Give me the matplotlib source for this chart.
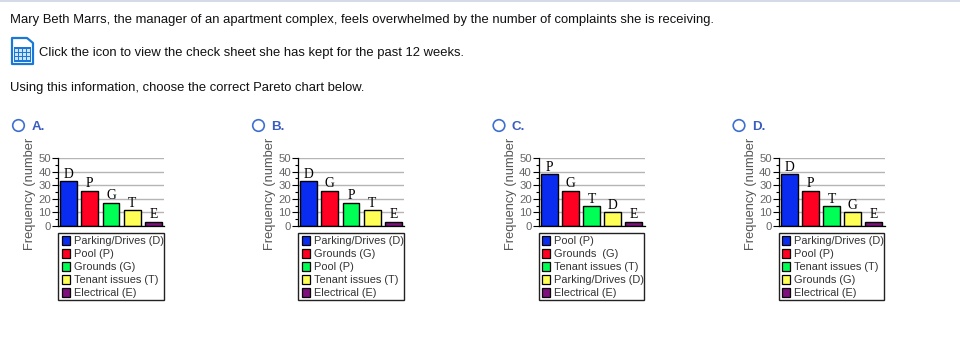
import matplotlib
matplotlib.use('Agg')
from matplotlib import pyplot as plt
from matplotlib.patches import Rectangle, Circle, Polygon

W, H = 960, 363

option_names = ['A.', 'B.', 'C.', 'D.']
legend_a = ['Parking/Drives (D)', 'Pool (P)', 'Grounds (G)', 'Tenant issues (T)', 'Electrical (E)']
legend_b = ['Parking/Drives (D)', 'Grounds (G)', 'Pool (P)', 'Tenant issues (T)', 'Electrical (E)']
legend_c = ['Pool (P)', 'Grounds  (G)', 'Tenant issues (T)', 'Parking/Drives (D)', 'Electrical (E)']
legend_d = ['Parking/Drives (D)', 'Pool (P)', 'Tenant issues (T)', 'Grounds (G)', 'Electrical (E)']
letters_a = ['D', 'P', 'G', 'T', 'E']
letters_b = ['D', 'G', 'P', 'T', 'E']
letters_c = ['P', 'G', 'T', 'D', 'E']
letters_d = ['D', 'P', 'T', 'G', 'E']
values_a = [33, 26, 17, 11.5, 3]
values_b = [33, 26, 17, 11.5, 3]
values_c = [38, 26, 14.5, 10, 3]
values_d = [38, 26, 14.5, 10, 3]
colors = ['#0a2cf0', '#ff0022', '#00ff55', '#ffff55', '#7f0f7f']

offsets = [0, 240, 480.5, 720.5]
legends = [legend_a, legend_b, legend_c, legend_d]
letters = [letters_a, letters_b, letters_c, letters_d]
values = [values_a, values_b, values_c, values_d]

plt.rcParams['font.family'] = ['Liberation Sans', 'DejaVu Sans']

fig = plt.figure(figsize=(W / 100, H / 100), dpi=100)

# page layer in pixel coordinates
bg = fig.add_axes([0, 0, 1, 1])
bg.set_xlim(0, W)
bg.set_ylim(H, 0)
bg.axis('off')

bg.add_patch(Rectangle((0, 0), W, 1.5, fc='#d5dbe6', ec='none'))
txt = 9.4
bg.text(10, 20.5, 'Mary Beth Marrs, the manager of an apartment complex, feels overwhelmed by the number of complaints she is receiving.',
        fontsize=txt, color='#111111', va='center')
bg.text(39, 53, 'Click the icon to view the check sheet she has kept for the past 12 weeks.',
        fontsize=txt, color='#111111', va='center')
bg.text(10, 88, 'Using this information, choose the correct Pareto chart below.',
        fontsize=txt, color='#111111', va='center')

# spreadsheet icon, document with cut corner
bg.add_patch(Polygon([(12, 38), (27, 38), (33, 43), (33, 64), (12, 64)], closed=True,
                     fc='white', ec='#1a78d6', lw=1.6, joinstyle='round'))
bg.add_patch(Rectangle((14, 47), 17, 15, fc='#1a78d6', ec='none'))
for r in range(3):
    for c in range(4):
        bg.add_patch(Rectangle((15 + c * 3.9, 48.5 + r * 4.2), 3, 3.2, fc='#cfe4f8', ec='none'))

for i, off in enumerate(offsets):
    bg.add_patch(Circle((18.5 + off, 125.5), 5.8, fc='white', ec='#3f6fd0', lw=1.2))
    bg.text(31.5 + off, 126.5, option_names[i], fontsize=9.6, fontweight='bold', color='#3a5cc0', va='center')
    bg.text(30.5 + off, 194, 'Frequency (number', fontsize=9.3, color='#555555', rotation=90,
            ha='center', va='center')

    ax = fig.add_axes([(58 + off) / W, 1 - 226 / H, 106 / W, 68 / H])
    ax.set_xlim(-0.5, 4.5)
    ax.set_ylim(0, 50)
    ax.set_axisbelow(True)
    ax.grid(axis='y', color='#b5b5b5', lw=1)
    ax.bar(range(5), values[i], width=0.8, color=colors, edgecolor='black', lw=1)
    for j in range(5):
        ax.text(j, values[i][j] + 0.4, letters[i][j], family='Liberation Serif', fontsize=9.8,
                ha='center', va='bottom', color='black')
    ax.set_yticks([0, 10, 20, 30, 40, 50])
    ax.set_yticks([5, 15, 25, 35, 45], minor=True)
    ax.set_xticks([])
    ax.tick_params(axis='y', which='major', length=4, width=0.8, pad=0.8, labelsize=8.2, labelcolor='#666666')
    ax.tick_params(axis='y', which='minor', length=2, width=0.8)
    for s in ['top', 'right']:
        ax.spines[s].set_visible(False)
    for s in ['left', 'bottom']:
        ax.spines[s].set_linewidth(0.9)
    ax.patch.set_alpha(0)

    # legend box
    bg.add_patch(Rectangle((58 + off, 232.5), 105.5, 67, fc='white', ec='#222222', lw=1, zorder=3))
    for j in range(5):
        y = 240.5 + j * 13
        bg.add_patch(Rectangle((61.5 + off, y - 4.2), 8.4, 8.4, fc=colors[j], ec='black', lw=0.9, zorder=4))
        bg.text(74 + off, y + 0.8, legends[i][j], fontsize=7.95, color='#333333', va='center', zorder=4)

plt.savefig('out.png', dpi=100)
